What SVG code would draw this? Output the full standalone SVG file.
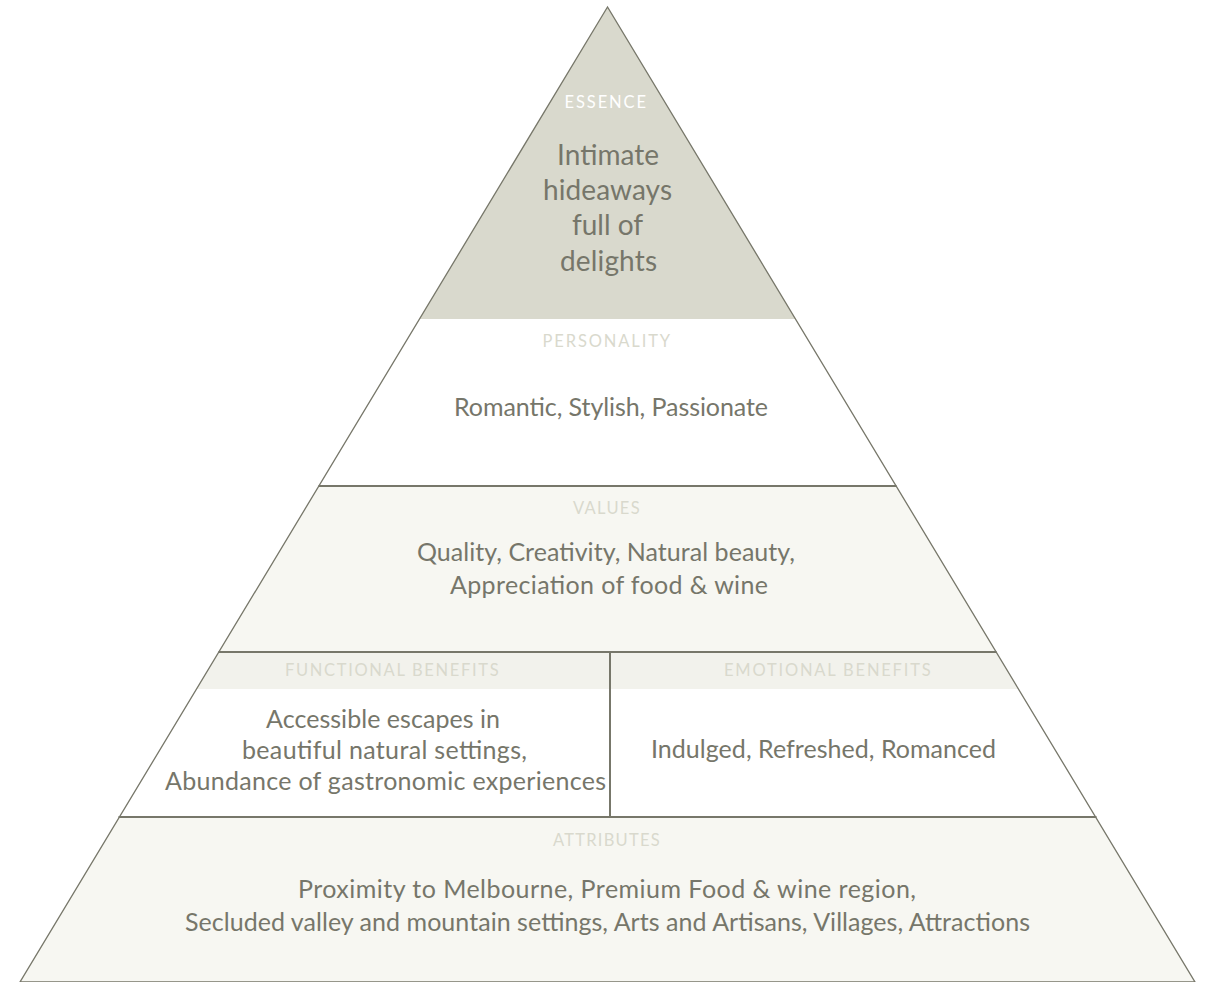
<svg xmlns="http://www.w3.org/2000/svg" width="1207" height="982" viewBox="0 0 1207 982">
<defs>
<clipPath id="tri"><polygon points="607.5,7 20,982 1195,982"/></clipPath>
<style>
.lbl{font-family:Lato,"Open Sans","Liberation Sans",sans-serif;font-size:16.5px;letter-spacing:1.4px;fill:#d9d9cd;text-anchor:middle}
.txt{font-family:Lato,"Open Sans","Liberation Sans",sans-serif;font-size:25px;fill:#76766a;text-anchor:middle}
.big{font-size:28px}
.div{stroke:#77776a;stroke-width:2;fill:none}
</style>
</defs>
<rect width="1207" height="982" fill="#ffffff"/>
<g clip-path="url(#tri)">
<rect x="0" y="0" width="1207" height="319" fill="#d9d9cd"/>
<rect x="0" y="486" width="1207" height="166" fill="#f7f7f2"/>
<rect x="0" y="652" width="1207" height="37" fill="#f2f2ec"/>
<rect x="0" y="817" width="1207" height="165" fill="#f7f7f2"/>
</g>
<g id="connectors">
<polygon points="607.5,7 20,982 1195,982" fill="none" stroke="#77776a" stroke-width="1.3"/>
<line class="div" x1="318.5" y1="486" x2="896.5" y2="486"/>
<line class="div" x1="218.5" y1="652" x2="996.5" y2="652"/>
<line class="div" x1="118.5" y1="817" x2="1096.5" y2="817"/>
<line class="div" x1="610" y1="652" x2="610" y2="817"/>
</g>
<g id="essence">
<text class="lbl" x="606" y="108" style="fill:#ffffff" textLength="83">ESSENCE</text>
<text class="txt big" x="608" y="165" textLength="102">Intimate</text>
<text class="txt big" x="607.5" y="200" textLength="129">hideaways</text>
<text class="txt big" x="607.5" y="235" textLength="71">full of</text>
<text class="txt big" x="608.5" y="271" textLength="97">delights</text>
</g>
<g id="personality">
<text class="lbl" x="607" y="347" textLength="129">PERSONALITY</text>
<text class="txt" x="611" y="416" textLength="314">Romantic, Stylish, Passionate</text>
</g>
<g id="values">
<text class="lbl" x="607" y="514" textLength="68">VALUES</text>
<text class="txt" x="606" y="561" textLength="378">Quality, Creativity, Natural beauty,</text>
<text class="txt" x="609" y="594" textLength="318">Appreciation of food &amp; wine</text>
</g>
<g id="functional">
<text class="lbl" x="392.5" y="676" textLength="215">FUNCTIONAL BENEFITS</text>
<text class="txt" x="383" y="728" textLength="234">Accessible escapes in</text>
<text class="txt" x="384.5" y="759" textLength="285">beautiful natural settings,</text>
<text class="txt" x="385.5" y="790" textLength="441">Abundance of gastronomic experiences</text>
</g>
<g id="emotional">
<text class="lbl" x="828" y="676" textLength="208">EMOTIONAL BENEFITS</text>
<text class="txt" x="823.5" y="758" textLength="345">Indulged, Refreshed, Romanced</text>
</g>
<g id="attributes">
<text class="lbl" x="607" y="846" textLength="108">ATTRIBUTES</text>
<text class="txt" x="607" y="898" textLength="618">Proximity to Melbourne, Premium Food &amp; wine region,</text>
<text class="txt" x="607.5" y="931" textLength="845">Secluded valley and mountain settings, Arts and Artisans, Villages, Attractions</text>
</g>
</svg>
